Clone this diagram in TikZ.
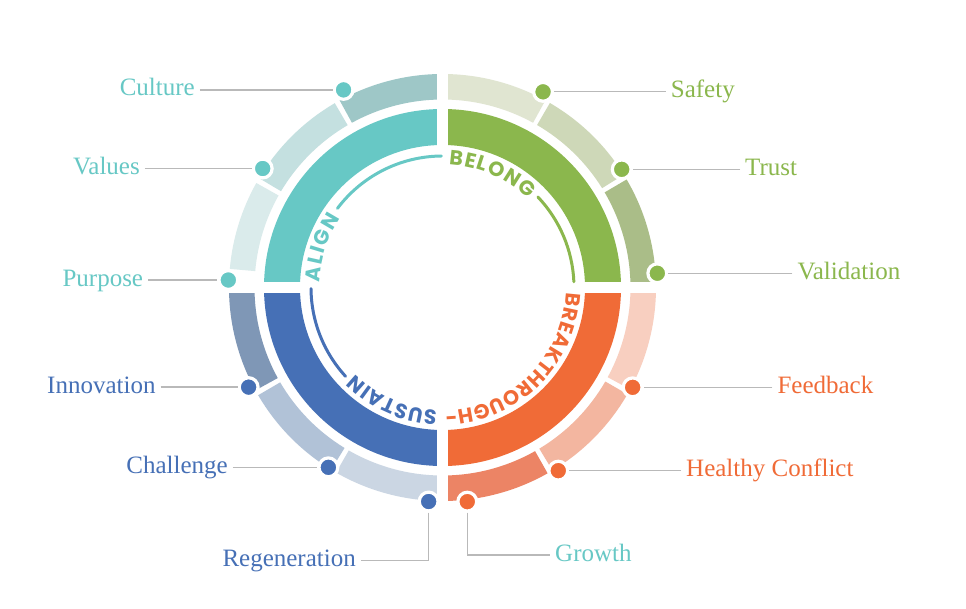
\documentclass[tikz,border=0pt]{standalone}
\usepackage{fontspec}
\usepackage{tikz}
\usetikzlibrary{decorations.text}
\newfontfamily\lblfont{Liberation Serif}
\newfontfamily\arcfont{Poppins}
\newcommand\arcfnt{\arcfont\bfseries\fontsize{20.5}{22}\selectfont}
\definecolor{aligncol}{HTML}{67C8C5}
\definecolor{belongcol}{HTML}{8BB74D}
\definecolor{breakcol}{HTML}{F06B37}
\definecolor{sustaincol}{HTML}{4670B6}
\definecolor{alignA}{HTML}{9EC7C7}
\definecolor{alignB}{HTML}{C4E0E0}
\definecolor{alignC}{HTML}{DAEBEB}
\definecolor{belongA}{HTML}{E0E5D1}
\definecolor{belongB}{HTML}{CED8B8}
\definecolor{belongC}{HTML}{AABD88}
\definecolor{breakA}{HTML}{F8CFC0}
\definecolor{breakB}{HTML}{F3B6A0}
\definecolor{breakC}{HTML}{EC8465}
\definecolor{sustainA}{HTML}{7F97B6}
\definecolor{sustainB}{HTML}{B1C2D7}
\definecolor{sustainC}{HTML}{CBD6E3}
\definecolor{leadgray}{HTML}{B9B9B9}

\begin{document}
\begin{tikzpicture}[x=1pt,y=1pt,
  lbl/.style={font=\lblfont\fontsize{25}{30}\selectfont, inner xsep=5pt, inner ysep=0pt,
              text height=17pt, text depth=5pt},
  dotmark/.style={circle, draw=white, line width=3.2pt, minimum size=18.8pt, inner sep=0pt},
  leader/.style={draw=leadgray, line width=1.3pt},
  guide/.style={line width=3pt, line cap=round},
  ringtext/.style={decorate, font=\arcfnt, decoration={text along path, text align=fit to path, text={#1}}}
]
  \fill[white] (-442.5,-320.5) rectangle (523.5,287.5);
  \useasboundingbox (-442.5,-320.5) rectangle (523.5,287.5);

  % inner quarter bands
  \foreach \a/\c in {90/aligncol, 0/belongcol, -90/breakcol, 180/sustaincol}
    \fill[\c] (\a:142.5) arc[start angle=\a, delta angle=90, radius=142.5]
      -- ({\a+90}:178.5) arc[start angle=\a+90, delta angle=-90, radius=178.5] -- cycle;

  % outer segments
  \foreach \a/\b/\c in {90/118.8/alignA, 120.3/149.2/alignB, 150.7/175/alignC,
                        0/30.4/belongC, 31.9/59.8/belongB, 61.2/90/belongA,
                        -28.5/0/breakA, -59/-30/breakB, -90/-60.5/breakC,
                        180/208.8/sustainA, 210.3/238.6/sustainB, 240.1/270/sustainC}
    \fill[\c] (\a:188) arc[start angle=\a, end angle=\b, radius=188]
      -- (\b:213.5) arc[start angle=\b, end angle=\a, radius=213.5] -- cycle;

  % gaps along the axes
  \fill[white] (-5.75,140) rectangle (5.75,225);
  \fill[white] (-5.75,-140) rectangle (5.75,-225);
  \fill[white] (140,-5.75) rectangle (225,5.75);
  \fill[white] (-140,-5.75) rectangle (-225,5.75);

  % names on the inner ring
  \draw[guide, aligncol] (143:131.5) arc[start angle=143, end angle=90.5, radius=131.5];
  \draw[guide, belongcol] (43.5:131.5) arc[start angle=43.5, end angle=2.5, radius=131.5];
  \draw[guide, sustaincol] (-137.5:131.5) arc[start angle=-137.5, end angle=-179.5, radius=131.5];
  \path[ringtext={|\arcfnt\color{aligncol}|ALIGN}]
    (177.5:123) arc[start angle=177.5, end angle=146, radius=123];
  \path[ringtext={|\arcfnt\color{belongcol}|BELONG}]
    (87:123) arc[start angle=87, end angle=46, radius=123];
  \path[ringtext={|\arcfnt\color{breakcol}|BREAKTHROUGH-}]
    (-2.5:123.5) arc[start angle=-2.5, end angle=-89, radius=123.5];
  \path[ringtext={|\arcfnt\color{sustaincol}|SUSTAIN}]
    (-92.5:123) arc[start angle=-92.5, end angle=-135, radius=123];

  % dots
  \node[dotmark, fill=aligncol] (d-culture) at (116.6:221) {};
  \node[dotmark, fill=aligncol] (d-values) at (146.5:215.6) {};
  \node[dotmark, fill=aligncol] (d-purpose) at (178:214.3) {};
  \node[dotmark, fill=belongcol] (d-safety) at (62.8:220) {};
  \node[dotmark, fill=belongcol] (d-trust) at (33.4:214.7) {};
  \node[dotmark, fill=belongcol] (d-valid) at (3.8:215.3) {};
  \node[dotmark, fill=breakcol] (d-feedback) at (-27.7:214.8) {};
  \node[dotmark, fill=breakcol] (d-conflict) at (-57.7:216.7) {};
  \node[dotmark, fill=breakcol] (d-growth) at (-83.4:215.6) {};
  \node[dotmark, fill=sustaincol] (d-innov) at (207.2:218) {};
  \node[dotmark, fill=sustaincol] (d-chall) at (237.6:213) {};
  \node[dotmark, fill=sustaincol] (d-regen) at (266.3:214.5) {};

  % labels
  \node[lbl, text=aligncol, anchor=east] (l-culture) at (-242.5,0 |- d-culture) {Culture};
  \node[lbl, text=aligncol, anchor=east] (l-values) at (-297.5,0 |- d-values) {Values};
  \node[lbl, text=aligncol, anchor=east] (l-purpose) at (-294.2,0 |- d-purpose) {Purpose};
  \node[lbl, text=belongcol, anchor=west] (l-safety) at (223.2,0 |- d-safety) {Safety};
  \node[lbl, text=belongcol, anchor=west] (l-trust) at (297.5,0 |- d-trust) {Trust};
  \node[lbl, text=belongcol, anchor=west] (l-valid) at (349.8,0 |- d-valid) {Validation};
  \node[lbl, text=breakcol, anchor=west] (l-feedback) at (329.8,0 |- d-feedback) {Feedback};
  \node[lbl, text=breakcol, anchor=west] (l-conflict) at (238.5,0 |- d-conflict) {Healthy Conflict};
  \node[lbl, text=aligncol, anchor=west] (l-growth) at (107.5,-267.5) {Growth};
  \node[lbl, text=sustaincol, anchor=east] (l-innov) at (-281.8,0 |- d-innov) {Innovation};
  \node[lbl, text=sustaincol, anchor=east] (l-chall) at (-209.5,0 |- d-chall) {Challenge};
  \node[lbl, text=sustaincol, anchor=east] (l-regen) at (-81.5,-273.2) {Regeneration};

  % leaders
  \draw[leader] (l-culture) -- (d-culture);
  \draw[leader] (l-values) -- (d-values);
  \draw[leader] (l-purpose) -- (d-purpose);
  \draw[leader] (l-safety) -- (d-safety);
  \draw[leader] (l-trust) -- (d-trust);
  \draw[leader] (l-valid) -- (d-valid);
  \draw[leader] (l-feedback) -- (d-feedback);
  \draw[leader] (l-conflict) -- (d-conflict);
  \draw[leader] (l-innov) -- (d-innov);
  \draw[leader] (l-chall) -- (d-chall);
  \draw[leader] (d-growth) |- (l-growth);
  \draw[leader] (d-regen) |- (l-regen);
\end{tikzpicture}
\end{document}
